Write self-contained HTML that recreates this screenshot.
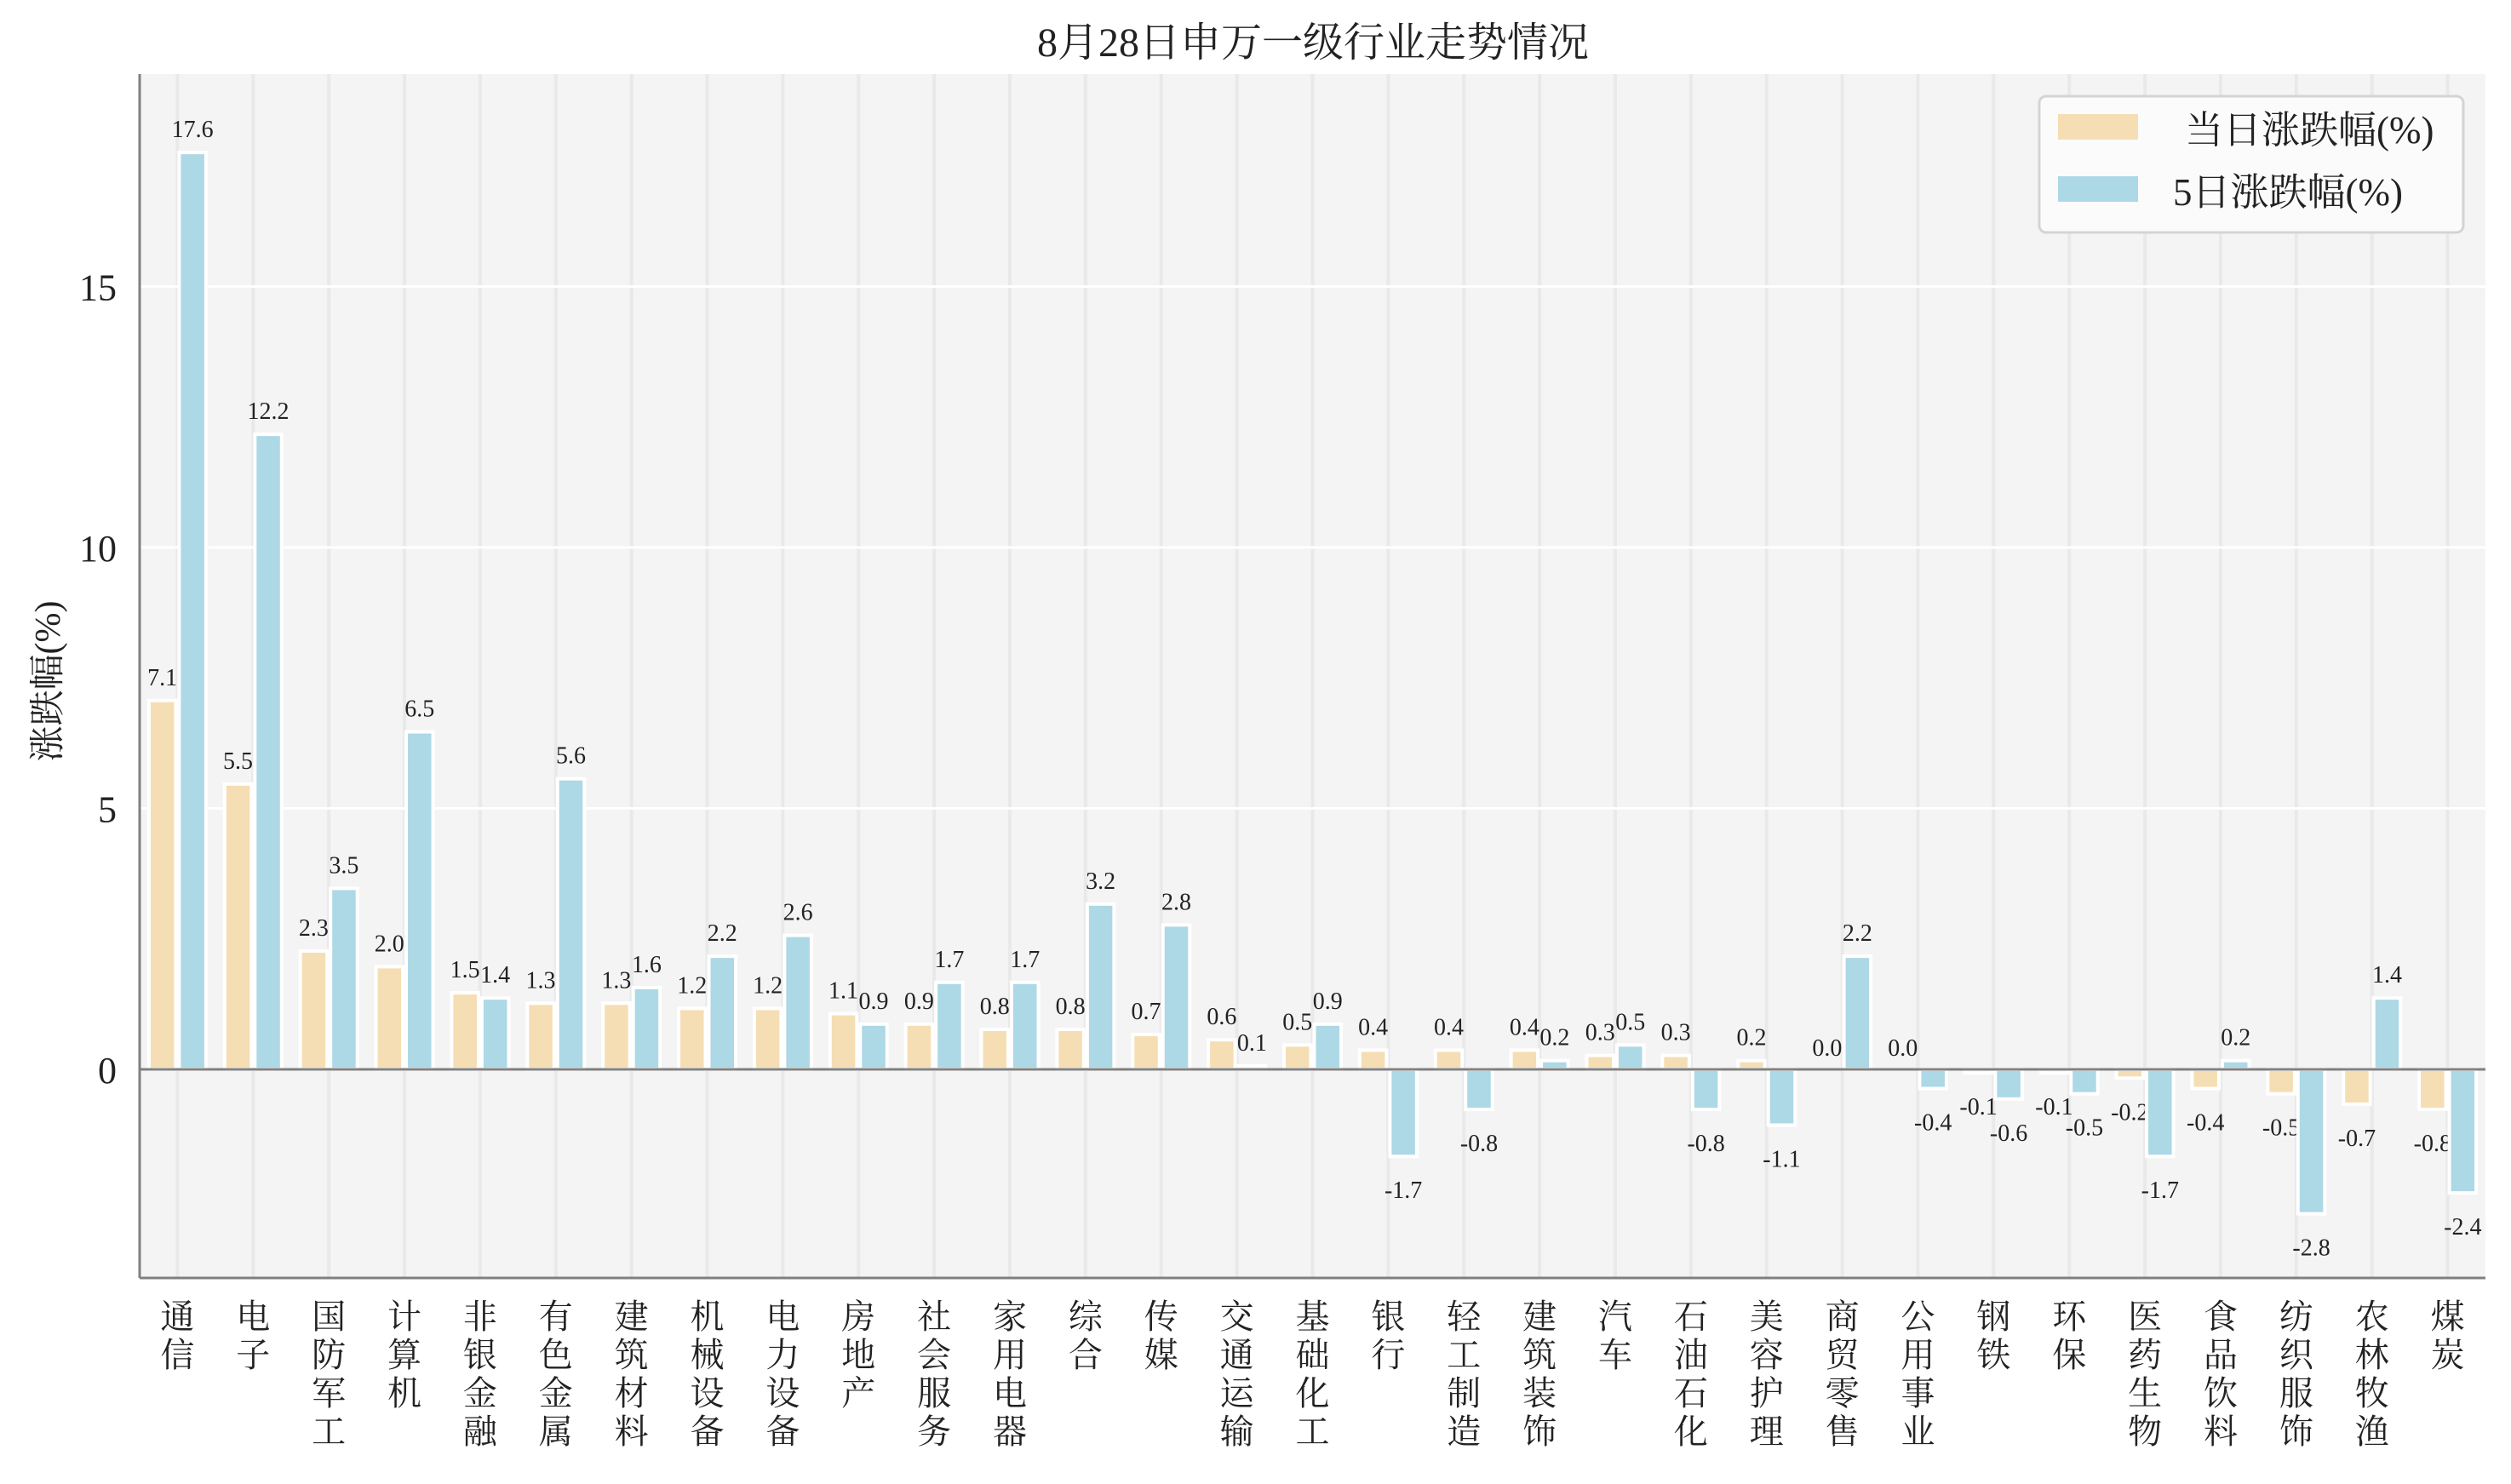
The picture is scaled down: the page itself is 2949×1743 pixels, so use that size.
<!DOCTYPE html>
<html><head><meta charset="utf-8"><style>
html,body{margin:0;padding:0;background:#fff;}
svg{display:block;}
text{font-family:"Liberation Serif","Noto Serif CJK SC",serif;fill:#222;}
</style></head><body>
<svg id="c" width="2949" height="1743" xmlns="http://www.w3.org/2000/svg"></svg>
<script>
const data=[["通信",7.1,17.6],["电子",5.5,12.2],["国防军工",2.3,3.5],["计算机",2.0,6.5],["非银金融",1.5,1.4],["有色金属",1.3,5.6],["建筑材料",1.3,1.6],["机械设备",1.2,2.2],["电力设备",1.2,2.6],["房地产",1.1,0.9],["社会服务",0.9,1.7],["家用电器",0.8,1.7],["综合",0.8,3.2],["传媒",0.7,2.8],["交通运输",0.6,0.1],["基础化工",0.5,0.9],["银行",0.4,-1.7],["轻工制造",0.4,-0.8],["建筑装饰",0.4,0.2],["汽车",0.3,0.5],["石油石化",0.3,-0.8],["美容护理",0.2,-1.1],["商贸零售",0.0,2.2],["公用事业",0.0,-0.4],["钢铁",-0.1,-0.6],["环保",-0.1,-0.5],["医药生物",-0.2,-1.7],["食品饮料",-0.4,0.2],["纺织服饰",-0.5,-2.8],["农林牧渔",-0.7,1.4],["煤炭",-0.8,-2.4]];
const L=164,R=2919,T=87,B=1501,Z=1256,U=61.3,S=(R-L)/31;
let s='';
s+=`<rect x="${L}" y="${T}" width="${R-L}" height="${B-T}" fill="#f4f4f4"/>`;
for(let i=0;i<31;i++){const cx=L+S/2+i*S;s+=`<line x1="${cx}" y1="${T}" x2="${cx}" y2="${B}" stroke="#e9e9e9" stroke-width="4"/>`;}
[5,10,15].forEach(v=>{const y=Z-v*U;s+=`<line x1="${L}" y1="${y}" x2="${R}" y2="${y}" stroke="#fff" stroke-width="3"/>`;});
[0,5,10,15].forEach(v=>{const y=Z-v*U;s+=`<text x="137" y="${y+16}" font-size="44" text-anchor="end">${v}</text>`;});
const W=35.5;
function bar(x,v,col){const y=v>=0?Z-v*U:Z;const h=Math.abs(v)*U;
 s+=`<rect x="${x+2}" y="${v>=0?y+2:y}" width="${W-4}" height="${Math.max(h-2,0)}" fill="${col}" stroke="#fff" stroke-width="4"/>`;
 const lx=x+W/2;const ly=v>=0?y-16:Z+h+47;
 s+=`<text x="${lx}" y="${ly}" font-size="28" text-anchor="middle">${v.toFixed(1)}</text>`;}
data.forEach((d,i)=>{const cx=L+S/2+i*S;bar(cx-W,d[1],"#f5deb3");bar(cx,d[2],"#add8e6");
 [...d[0]].forEach((ch,j)=>{s+=`<text x="${cx}" y="${1560+j*45}" font-size="40" text-anchor="middle">${ch}</text>`;});});
s+=`<line x1="${L}" y1="${Z}" x2="${R}" y2="${Z}" stroke="#808080" stroke-width="3"/>`;
s+=`<line x1="${L}" y1="${T}" x2="${L}" y2="${B}" stroke="#808080" stroke-width="3"/>`;
s+=`<line x1="${L}" y1="${B}" x2="${R}" y2="${B}" stroke="#808080" stroke-width="3"/>`;
s+=`<text x="1542" y="66" font-size="48" text-anchor="middle">8月28日申万一级行业走势情况</text>`;
s+=`<text transform="translate(70,800) rotate(-90)" font-size="42" text-anchor="middle">涨跌幅(%)</text>`;
s+=`<rect x="2395" y="113" width="498" height="160" rx="8" fill="#fbfbfb" stroke="#d4d4d4" stroke-width="3"/>`;
s+=`<rect x="2417" y="134" width="94" height="30" fill="#f5deb3"/><rect x="2417" y="207" width="94" height="30" fill="#add8e6"/>`;
s+=`<text x="2566" y="168" font-size="45">当日涨跌幅(%)</text><text x="2552" y="241" font-size="45">5日涨跌幅(%)</text>`;
document.getElementById('c').innerHTML=s;
</script>
</body></html>
